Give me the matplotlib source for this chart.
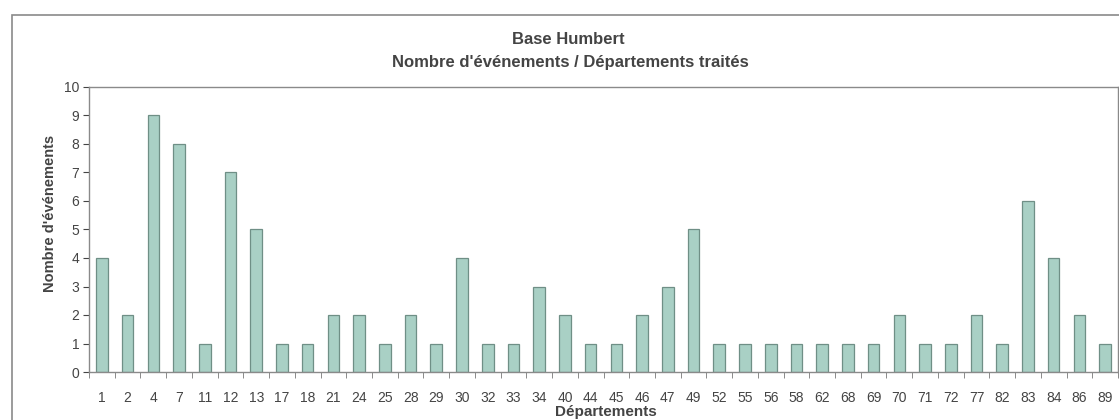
import matplotlib
matplotlib.use('Agg')
import matplotlib.pyplot as plt
from matplotlib.patches import Rectangle
import numpy as np

plt.rcParams['font.family'] = ['Liberation Sans', 'DejaVu Sans']

departements = ['1', '2', '4', '7', '11', '12', '13', '17', '18', '21',
                '24', '25', '28', '29', '30', '32', '33', '34', '40', '44',
                '45', '46', '47', '49', '52', '55', '56', '58', '62', '68',
                '69', '70', '71', '72', '77', '82', '83', '84', '86', '89']
evenements = [4, 2, 9, 8, 1, 7, 5, 1, 1, 2,
              2, 1, 2, 1, 4, 1, 1, 3, 2, 1,
              1, 2, 3, 5, 1, 1, 1, 1, 1, 1,
              1, 2, 1, 1, 2, 1, 6, 4, 2, 1]

W, H = 1119, 420
fig = plt.figure(figsize=(W / 100, H / 100), dpi=100)

# cadre extérieur du graphique
fig.patches.append(Rectangle((12 / W, -0.1), 1.2, 1 - 15 / H + 0.1,
                             transform=fig.transFigure, fill=False,
                             edgecolor='#8a8a8a', linewidth=1.2))

ax = fig.add_axes([89 / W, 1 - 372 / H, (1118 - 89) / W, (372 - 87) / H])

x = np.arange(len(departements))
ax.bar(x, evenements, width=0.45, color='#a9d0c5', edgecolor='#6f8f86',
       linewidth=0.9)

ax.set_xlim(-0.5, len(departements) - 0.5)
ax.set_ylim(0, 10)
ax.set_yticks(range(0, 11))
ax.set_xticks(x)
ax.set_xticklabels(departements)
ax.set_xticks(np.arange(-0.5, len(departements), 1), minor=True)
ax.tick_params(axis='x', which='major', length=0, pad=19, labelsize=10,
               colors='#444444')
ax.tick_params(axis='x', which='minor', length=4, color='#777777')
ax.tick_params(axis='y', length=4, pad=3, labelsize=10, colors='#444444')
for lab in ax.get_xticklabels():
    lab.set_va('center')

for side in ['left', 'bottom', 'top', 'right']:
    ax.spines[side].set_color('#8a8a8a')
    ax.spines[side].set_linewidth(1.0)

fig.text(568 / W, 1 - 40 / H, 'Base Humbert', ha='center', va='center',
         fontsize=12, fontweight='bold', color='#444444')
fig.text(570 / W, 1 - 62 / H, "Nombre d'événements / Départements traités",
         ha='center', va='center', fontsize=12, fontweight='bold',
         color='#444444')
fig.text(606 / W, 1 - 412 / H, 'Départements', ha='center', va='center',
         fontsize=11, fontweight='bold', color='#444444')
fig.text(50 / W, 1 - 213 / H, "Nombre d'événements", ha='center',
         va='center', rotation=90, fontsize=10.5, fontweight='bold',
         color='#444444')

fig.savefig('out.png', dpi=100)
